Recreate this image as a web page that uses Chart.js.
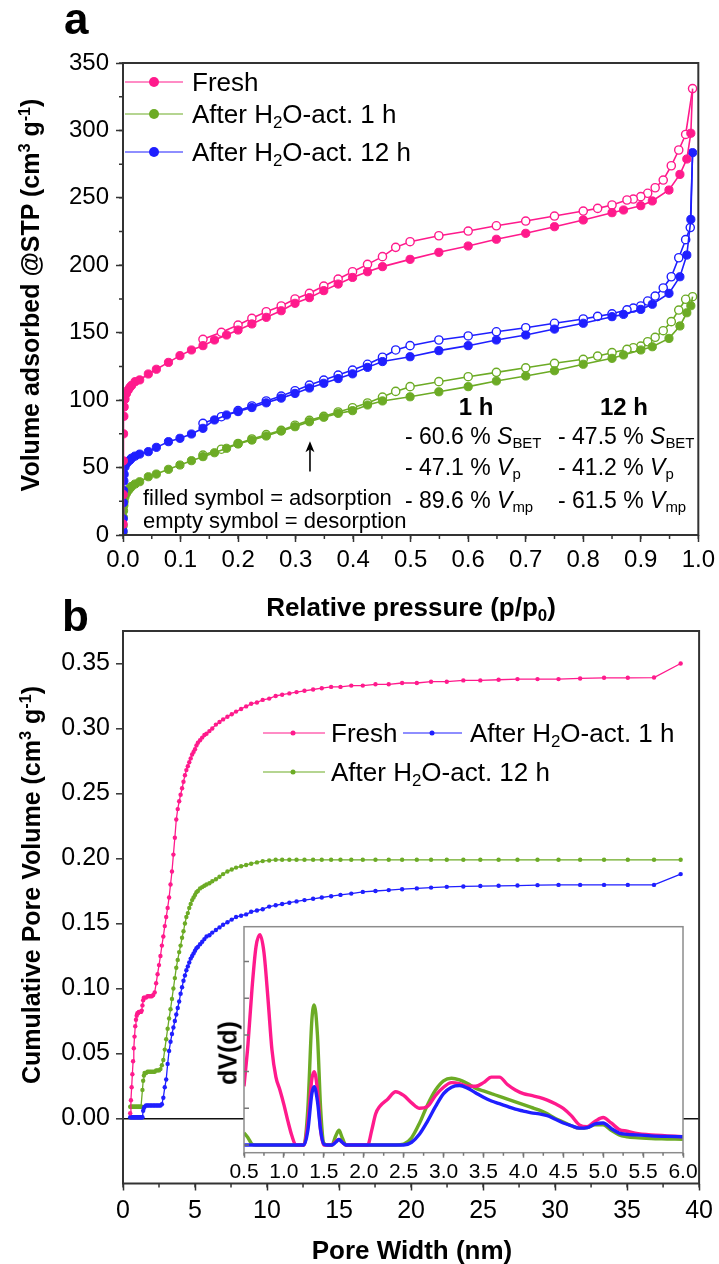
<!DOCTYPE html>
<html lang="en">
<head>
<meta charset="UTF-8">
<title>Isotherms and pore size distribution</title>
<script src="https://cdn.jsdelivr.net/npm/chart.js@4.4.1/dist/chart.umd.min.js"></script>
<style>
  body { margin: 0; background: #fff; }
  #page { position: relative; width: 719px; height: 1264px; font-family: "Liberation Sans", Arial, sans-serif; color: #000; overflow: hidden; }
  .box { position: absolute; }
  .t { position: absolute; white-space: nowrap; line-height: 1; transform: translateY(-50%); }
  .c { transform: translate(-50%, -50%); }
  .r { transform: translate(-50%, -50%) rotate(-90deg); }
  .b { font-weight: bold; }
  sub { font-size: 0.65em; vertical-align: -0.3em; line-height: 0; }
  sup { font-size: 0.65em; vertical-align: 0.55em; line-height: 0; }
  .ln { position: absolute; height: 0; border-top: 1.6px solid; transform: translateY(-50%); }
  .dot { position: absolute; border-radius: 50%; transform: translate(-50%, -50%); }
</style>
</head>
<body>
<div id="page">
  <div class="box" style="left:0;top:0;width:719px;height:585px"><canvas id="chartA"></canvas></div>
  <div class="box" style="left:0;top:600px;width:719px;height:640px"><canvas id="chartB"></canvas></div>
  <div class="box" style="left:200px;top:900px;width:500px;height:290px"><canvas id="chartInset"></canvas></div>

  <!-- panel a -->
  <div class="t b" style="left:64px;top:19px;font-size:44px">a</div>
  <div class="t r b" style="left:30px;top:295px;font-size:25px">Volume adsorbed @STP (cm<sup>3</sup> g<sup>-1</sup>)</div>
  <div class="t c b" style="left:411px;top:607px;font-size:26px">Relative pressure (p/p<sub>0</sub>)</div>

  <div class="ln" style="left:125px;top:82px;width:58px;border-color:#ff1a8c"></div>
  <div class="dot" style="left:154px;top:82px;width:10px;height:10px;background:#ff1a8c"></div>
  <div class="t" style="left:192px;top:82px;font-size:26px">Fresh</div>
  <div class="ln" style="left:125px;top:114px;width:58px;border-color:#6cab25"></div>
  <div class="dot" style="left:154px;top:114px;width:10px;height:10px;background:#6cab25"></div>
  <div class="t" style="left:192px;top:114px;font-size:26px">After H<sub>2</sub>O-act. 1 h</div>
  <div class="ln" style="left:125px;top:152px;width:58px;border-color:#1f1fff"></div>
  <div class="dot" style="left:154px;top:152px;width:10px;height:10px;background:#1f1fff"></div>
  <div class="t" style="left:192px;top:152px;font-size:26px">After H<sub>2</sub>O-act. 12 h</div>

  <div class="t c b" style="left:476px;top:407px;font-size:24px">1 h</div>
  <div class="t c b" style="left:624px;top:407px;font-size:24px">12 h</div>
  <div class="t" style="left:405px;top:436px;font-size:23px">- 60.6 % <i>S</i><sub>BET</sub></div>
  <div class="t" style="left:405px;top:467px;font-size:23px">- 47.1 % <i>V</i><sub>p</sub></div>
  <div class="t" style="left:405px;top:500px;font-size:23px">- 89.6 % <i>V</i><sub>mp</sub></div>
  <div class="t" style="left:558px;top:436px;font-size:23px">- 47.5 % <i>S</i><sub>BET</sub></div>
  <div class="t" style="left:558px;top:467px;font-size:23px">- 41.2 % <i>V</i><sub>p</sub></div>
  <div class="t" style="left:558px;top:500px;font-size:23px">- 61.5 % <i>V</i><sub>mp</sub></div>
  <div class="t" style="left:143px;top:498px;font-size:22px">filled symbol = adsorption</div>
  <div class="t" style="left:143px;top:521px;font-size:22px">empty symbol = desorption</div>

  <!-- panel b -->
  <div class="t b" style="left:62px;top:616px;font-size:44px">b</div>
  <div class="t r b" style="left:31px;top:885px;font-size:25px">Cumulative Pore Volume (cm<sup>3</sup> g<sup>-1</sup>)</div>
  <div class="t c b" style="left:412px;top:1250px;font-size:26px">Pore Width (nm)</div>
  <div class="t r b" style="left:228px;top:1053px;font-size:25px">dV(d)</div>

  <div class="ln" style="left:263px;top:733px;width:62px;border-color:#ff1a8c"></div>
  <div class="dot" style="left:293px;top:733px;width:5px;height:5px;background:#ff1a8c"></div>
  <div class="t" style="left:331px;top:733px;font-size:26px">Fresh</div>
  <div class="ln" style="left:403px;top:733px;width:59px;border-color:#1f1fff"></div>
  <div class="dot" style="left:432px;top:733px;width:5px;height:5px;background:#1f1fff"></div>
  <div class="t" style="left:470px;top:733px;font-size:26px">After H<sub>2</sub>O-act. 1 h</div>
  <div class="ln" style="left:263px;top:772px;width:62px;border-color:#6cab25"></div>
  <div class="dot" style="left:293px;top:772px;width:5px;height:5px;background:#6cab25"></div>
  <div class="t" style="left:331px;top:772px;font-size:26px">After H<sub>2</sub>O-act. 12 h</div>
</div>

<script>
// ---- panel a: N2 isotherms (p/p0, cm3/g) ----
var adsP = [0.0001, 0.0003, 0.0006, 0.001, 0.0015, 0.002, 0.0035, 0.006, 0.009, 0.012,
  0.015, 0.021, 0.029, 0.044, 0.058, 0.079, 0.099, 0.119, 0.139, 0.159,
  0.18, 0.2, 0.224, 0.249, 0.275, 0.299, 0.324, 0.349, 0.374, 0.399,
  0.425, 0.451, 0.499, 0.549, 0.6, 0.649, 0.7, 0.75, 0.8, 0.85,
  0.87, 0.9, 0.92, 0.949, 0.968, 0.98, 0.987, 0.99];
var freshAds = [8, 30, 55, 75, 88, 95, 100.8, 105, 107.5, 109.5,
  111, 113.7, 115, 119.4, 122.9, 128, 133, 137.2, 140.4, 144.6,
  148.3, 152, 156.5, 161.4, 166.3, 171.8, 176, 181.2, 186.1, 191,
  195.2, 199, 204.4, 209.6, 214.3, 219.3, 223.7, 228.6, 233.6, 239,
  241, 244.2, 247.7, 255.8, 267.4, 278.8, 297.9, 331];
var act1hAds = [2, 7, 13, 18, 22, 25, 28.4, 31, 33, 34.6,
  36, 37.8, 39.5, 43.2, 45.2, 48.7, 51.9, 55.1, 58.1, 61,
  64.3, 67.5, 70.4, 73.4, 77.1, 80.3, 84, 87.3, 90.2, 92.2,
  96.4, 99.4, 102.5, 106.2, 110, 114.2, 117.9, 121.8, 126.6, 131,
  133.5, 137.2, 139.6, 145.8, 155, 164.8, 170, 176.7];
var act12hAds = [3, 12, 24, 33, 40, 45, 50.6, 53, 54.5, 55.6,
  57, 58.5, 60, 61.8, 65, 69.2, 71.7, 74.9, 79.1, 85.3,
  89, 91.5, 94.5, 98, 101.5, 105, 109, 112.5, 116, 119.5,
  124.3, 128.6, 132.2, 136.7, 140.4, 144.6, 148.3, 152.7, 157, 161.9,
  163.6, 167.3, 171.1, 179.2, 191.5, 207.6, 234, 283.5];

var desP = [0.99, 0.986, 0.978, 0.966, 0.953, 0.939, 0.925, 0.912, 0.9, 0.887,
  0.876, 0.85, 0.825, 0.8, 0.75, 0.7, 0.649, 0.6, 0.549, 0.499,
  0.474, 0.451, 0.425, 0.399, 0.374, 0.349, 0.324, 0.299, 0.275, 0.249,
  0.224, 0.2, 0.171, 0.139];
var freshDes = [331, null, 297, 285.5, 273.8, 263.2, 257.5, 253.4, 250.9, 249.1,
  248.4, 244.7, 242.2, 240.2, 236.5, 232.8, 229.3, 225.4, 221.9, 217.5,
  213.3, 206.4, 200.7, 195.2, 189.8, 184.6, 179.2, 175, 169.8, 165.6,
  160.7, 155.7, 150.3, 145.1];
var act1hDes = [176.7, null, 174.8, 166.8, 158.2, 151.5, 146.6, 143.3, 140.1, 138.9,
  137.7, 135.2, 132.7, 130.3, 127.3, 124, 120.6, 117.4, 113.7, 110,
  106.5, 102.3, 97.9, 94.4, 91.2, 88, 85, 81.4, 77.6, 74.4,
  71.2, 67.9, 63.6, 59.3];
var act12hDes = [283.5, 228, 219, 205.6, 191.5, 183.2, 177.2, 173.5, 169.8, 168.3,
  167, 164, 162.1, 160.2, 157, 153.7, 150.7, 147.6, 144.6, 140.4,
  137.2, 131.8, 126.6, 122.3, 118.6, 114.9, 111.2, 107, 103, 99.4,
  95.7, 92.2, 87.7, 82.8];

// ---- panel b: cumulative pore volume (nm, cm3/g) ----
var poreWidth = [0.5, 0.55, 0.6, 0.65, 0.7, 0.75, 0.8, 0.85, 0.9, 0.95,
  1.0, 1.05, 1.1, 1.15, 1.2, 1.25, 1.3, 1.35, 1.4, 1.45,
  1.5, 1.6, 1.7, 1.8, 1.9, 2.0, 2.1, 2.2, 2.3, 2.4,
  2.5, 2.6, 2.7, 2.8, 2.9, 3.0, 3.1, 3.2, 3.3, 3.4,
  3.5, 3.6, 3.7, 3.8, 3.9, 4.0, 4.1, 4.2, 4.3, 4.4,
  4.5, 4.6, 4.7, 4.8, 4.9, 5.0, 5.1, 5.2, 5.35, 5.5,
  5.65, 5.8, 6.0, 6.2, 6.45, 6.7, 6.95, 7.25, 7.55, 7.85,
  8.2, 8.55, 8.9, 9.3, 9.7, 10.15, 10.6, 11.05, 11.55, 12.05,
  12.6, 13.2, 13.8, 14.45, 15.1, 15.85, 16.65, 17.53, 18.45, 19.38,
  20.4, 21.39, 22.48, 23.63, 24.81, 26.08, 27.39, 28.78, 30.24, 31.74,
  33.4, 35.05, 36.87, 38.72];
var freshCum = [0.004, 0.014, 0.024, 0.034, 0.044, 0.054, 0.063, 0.071, 0.076, 0.079,
  0.081, 0.081, 0.082, 0.082, 0.082, 0.082, 0.083, 0.087, 0.091, 0.093,
  0.093, 0.093, 0.094, 0.094, 0.094, 0.094, 0.095, 0.097, 0.104, 0.111,
  0.118, 0.125, 0.133, 0.140, 0.148, 0.155, 0.162, 0.170, 0.180, 0.190,
  0.203, 0.216, 0.230, 0.238, 0.244, 0.249, 0.254, 0.259, 0.264, 0.268,
  0.271, 0.274, 0.277, 0.280, 0.282, 0.284, 0.287, 0.289, 0.291, 0.293,
  0.295, 0.296, 0.298, 0.300, 0.303, 0.305, 0.307, 0.309, 0.311, 0.313,
  0.315, 0.317, 0.319, 0.320, 0.322, 0.323, 0.325, 0.326, 0.327, 0.328,
  0.329, 0.330, 0.331, 0.332, 0.332, 0.333, 0.333, 0.334, 0.334, 0.335,
  0.335, 0.336, 0.336, 0.337, 0.337, 0.3375, 0.338, 0.338, 0.338, 0.3385,
  0.339, 0.339, 0.3392, 0.350];
var act1hCum = [0.001, 0.001, 0.001, 0.001, 0.001, 0.001, 0.001, 0.001, 0.001, 0.001,
  0.001, 0.001, 0.001, 0.001, 0.001, 0.001, 0.001, 0.001, 0.006, 0.008,
  0.009, 0.010, 0.010, 0.010, 0.010, 0.010, 0.010, 0.010, 0.010, 0.010,
  0.010, 0.010, 0.011, 0.016, 0.024, 0.030, 0.042, 0.052, 0.059, 0.065,
  0.070, 0.075, 0.080, 0.085, 0.090, 0.096, 0.101, 0.106, 0.110, 0.114,
  0.117, 0.120, 0.123, 0.125, 0.127, 0.129, 0.131, 0.132, 0.134, 0.136,
  0.138, 0.140, 0.141, 0.143, 0.145, 0.147, 0.149, 0.151, 0.153, 0.155,
  0.156, 0.157, 0.159, 0.160, 0.161, 0.163, 0.164, 0.165, 0.166, 0.167,
  0.168, 0.169, 0.170, 0.171, 0.172, 0.173, 0.1743, 0.175, 0.1757, 0.1764,
  0.177, 0.1776, 0.1782, 0.1785, 0.1788, 0.179, 0.1792, 0.1795, 0.1797, 0.1797,
  0.1797, 0.1797, 0.1797, 0.188];
var act12hCum = [0.009, 0.009, 0.009, 0.009, 0.009, 0.009, 0.009, 0.009, 0.009, 0.009,
  0.009, 0.009, 0.009, 0.009, 0.009, 0.009, 0.009, 0.022, 0.029, 0.033,
  0.035, 0.035, 0.036, 0.036, 0.036, 0.036, 0.036, 0.036, 0.037, 0.037,
  0.037, 0.038, 0.041, 0.045, 0.053, 0.061, 0.069, 0.077, 0.084, 0.092,
  0.100, 0.108, 0.116, 0.122, 0.128, 0.133, 0.139, 0.144, 0.150, 0.155,
  0.158, 0.162, 0.165, 0.168, 0.170, 0.172, 0.174, 0.175, 0.177, 0.178,
  0.179, 0.180, 0.181, 0.1825, 0.184, 0.186, 0.188, 0.190, 0.1915, 0.193,
  0.194, 0.195, 0.196, 0.197, 0.198, 0.1985, 0.199, 0.199, 0.199, 0.199,
  0.199, 0.199, 0.199, 0.199, 0.199, 0.199, 0.199, 0.199, 0.199, 0.199,
  0.199, 0.199, 0.199, 0.199, 0.199, 0.199, 0.199, 0.199, 0.199, 0.199,
  0.199, 0.199, 0.199, 0.199];

// ---- inset: dV(d), arbitrary units ----
var insetWidth = [0.5, 0.55, 0.6, 0.65, 0.7, 0.75, 0.8, 0.85, 0.9, 0.95,
  1.0, 1.05, 1.1, 1.15, 1.2, 1.25, 1.3, 1.35, 1.38, 1.42,
  1.46, 1.5, 1.55, 1.6, 1.65, 1.69, 1.73, 1.78, 1.85, 1.95,
  2.05, 2.1, 2.15, 2.2, 2.3, 2.4, 2.5, 2.6, 2.7, 2.8,
  2.9, 3.0, 3.1, 3.2, 3.3, 3.4, 3.5, 3.6, 3.7, 3.8,
  3.9, 4.0, 4.1, 4.2, 4.3, 4.4, 4.5, 4.6, 4.7, 4.8,
  4.9, 5.0, 5.1, 5.2, 5.3, 5.4, 5.6, 5.8, 6.0];
var freshDv = [0.32, 0.55, 0.85, 1.08, 1.146, 1.05, 0.80, 0.52, 0.37, 0.30,
  0.22, 0.13, 0.05, 0, 0, 0, 0.12, 0.36, 0.40, 0.30,
  0.08, 0, 0, 0, 0.02, 0.03, 0.015, 0, 0, 0,
  0, 0.08, 0.17, 0.21, 0.25, 0.29, 0.27, 0.23, 0.20, 0.21,
  0.27, 0.315, 0.34, 0.335, 0.32, 0.32, 0.34, 0.37, 0.37, 0.33,
  0.30, 0.28, 0.27, 0.26, 0.245, 0.225, 0.20, 0.16, 0.11, 0.10,
  0.13, 0.15, 0.12, 0.085, 0.075, 0.065, 0.055, 0.05, 0.045];
var act1hDv = [0, 0, 0, 0, 0, 0, 0, 0, 0, 0,
  0, 0, 0, 0, 0, 0, 0.08, 0.28, 0.318, 0.24,
  0.08, 0.005, 0, 0, 0.015, 0.03, 0.015, 0, 0, 0,
  0, 0, 0, 0, 0, 0, 0, 0.015, 0.06, 0.13,
  0.21, 0.28, 0.315, 0.324, 0.31, 0.285, 0.26, 0.24, 0.225, 0.21,
  0.195, 0.185, 0.175, 0.17, 0.16, 0.14, 0.12, 0.105, 0.092, 0.095,
  0.115, 0.12, 0.09, 0.065, 0.058, 0.055, 0.05, 0.047, 0.045];
var act12hDv = [0.067, 0.04, 0.005, 0, 0, 0, 0, 0, 0, 0,
  0, 0, 0, 0, 0, 0, 0.2, 0.68, 0.764, 0.6,
  0.2, 0.01, 0, 0, 0.05, 0.08, 0.04, 0, 0, 0,
  0, 0, 0, 0, 0, 0, 0.005, 0.04, 0.12, 0.22,
  0.30, 0.35, 0.364, 0.355, 0.335, 0.31, 0.295, 0.28, 0.265, 0.25,
  0.235, 0.22, 0.205, 0.19, 0.17, 0.145, 0.125, 0.105, 0.092, 0.095,
  0.11, 0.11, 0.08, 0.055, 0.045, 0.04, 0.035, 0.033, 0.031];

var PINK = '#ff1a8c', GREEN = '#6cab25', BLUE = '#1f1fff';
var AXIS = '#333';
var FONT = '"Liberation Sans", Arial, sans-serif';

function pts(xs, ys) {
  return xs.map(function (x, i) { return { x: x, y: ys[i] }; });
}

// frame round the plot area (and white fill for the inset)
var frame = {
  id: 'frame',
  beforeDatasetsDraw: function (chart, args, o) {
    if (!o.fill) return;
    var a = chart.chartArea, ctx = chart.ctx;
    ctx.save();
    ctx.fillStyle = o.fill;
    ctx.fillRect(a.left, a.top, a.right - a.left, a.bottom - a.top);
    ctx.restore();
  },
  afterDraw: function (chart, args, o) {
    var a = chart.chartArea, ctx = chart.ctx;
    ctx.save();
    ctx.strokeStyle = o.color || AXIS;
    ctx.lineWidth = o.width || 2;
    ctx.strokeRect(a.left, a.top, a.right - a.left, a.bottom - a.top);
    ctx.restore();
  }
};

// short ticks between the labelled ones
var minorTicks = {
  id: 'minorTicks',
  afterDraw: function (chart, args, o) {
    var ctx = chart.ctx;
    (o.axes || []).forEach(function (ax) {
      var sc = chart.scales[ax.id];
      var start = ax.start !== undefined ? ax.start : sc.min;
      ctx.save();
      ctx.strokeStyle = ax.color || AXIS;
      ctx.lineWidth = 1.5;
      ctx.beginPath();
      for (var v = start; v <= sc.max + 1e-9; v += ax.step) {
        var p = sc.getPixelForValue(v);
        if (sc.isHorizontal()) {
          ctx.moveTo(p, sc.top); ctx.lineTo(p, sc.top + ax.len);
        } else if (ax.inward) {
          ctx.moveTo(sc.right, p); ctx.lineTo(sc.right + ax.len, p);
        } else {
          ctx.moveTo(sc.right, p); ctx.lineTo(sc.right - ax.len, p);
        }
      }
      ctx.stroke();
      ctx.restore();
    });
  }
};

// the arrow under the isotherms
var arrow = {
  id: 'arrow',
  afterDatasetsDraw: function (chart, args, o) {
    if (o.p === undefined) return;
    var ctx = chart.ctx;
    var x = chart.scales.x.getPixelForValue(o.p);
    var y0 = chart.scales.y.getPixelForValue(o.from);
    var y1 = chart.scales.y.getPixelForValue(o.to);
    ctx.save();
    ctx.strokeStyle = '#000'; ctx.fillStyle = '#000'; ctx.lineWidth = 1.6;
    ctx.beginPath(); ctx.moveTo(x, y0); ctx.lineTo(x, y1 + 6); ctx.stroke();
    ctx.beginPath(); ctx.moveTo(x, y1); ctx.lineTo(x - 4.5, y1 + 11); ctx.lineTo(x, y1 + 8); ctx.lineTo(x + 4.5, y1 + 11); ctx.closePath(); ctx.fill();
    ctx.restore();
  }
};

function isoSet(xs, ys, color, hollow, hideIdx) {
  return {
    data: pts(xs, ys),
    borderColor: color,
    borderWidth: 1.6,
    pointRadius: xs.map(function (_, i) { return i === hideIdx ? 0 : 4.1; }),
    pointBackgroundColor: hollow ? '#fff' : color,
    pointBorderColor: color,
    pointBorderWidth: hollow ? 1.4 : 1,
    spanGaps: true
  };
}

function tickGrid(len) {
  return { display: true, drawOnChartArea: false, drawTicks: true, tickLength: len, tickColor: AXIS, tickWidth: 1.5 };
}

var base = {
  animation: false,
  responsive: true,
  maintainAspectRatio: false,
  events: []
};

new Chart(document.getElementById('chartA'), {
  type: 'line',
  data: {
    datasets: [
      isoSet(adsP, freshAds, PINK, false, adsP.length - 1),
      isoSet(desP, freshDes, PINK, true, -1),
      isoSet(adsP, act12hAds, BLUE, false, -1),
      isoSet(desP, act12hDes, BLUE, true, 0),
      isoSet(adsP, act1hAds, GREEN, false, adsP.length - 1),
      isoSet(desP, act1hDes, GREEN, true, -1)
    ]
  },
  options: Object.assign({}, base, {
    layout: { padding: { left: 0, right: 19, top: 63, bottom: 0 } },
    plugins: {
      legend: { display: false }, tooltip: { enabled: false },
      frame: { color: AXIS, width: 2 },
      minorTicks: { axes: [{ id: 'x', step: 0.05, len: 4 }, { id: 'y', step: 25, len: 4 }] },
      arrow: { p: 0.325, from: 47, to: 69.5 }
    },
    scales: {
      x: {
        type: 'linear', min: 0, max: 1,
        border: { display: false },
        grid: tickGrid(7),
        ticks: { stepSize: 0.1, padding: 4, color: '#000', font: { family: FONT, size: 24 }, maxRotation: 0,
          callback: function (v) { return v.toFixed(1); } },
        afterFit: function (s) { s.height = 50; }
      },
      y: {
        min: 0, max: 350,
        border: { display: false },
        grid: tickGrid(7),
        ticks: { stepSize: 50, padding: 7, color: '#000', font: { family: FONT, size: 24 } },
        afterFit: function (s) { s.width = 123; }
      }
    }
  }),
  plugins: [frame, minorTicks, arrow]
});

function cumSet(ys, color) {
  return { data: pts(poreWidth, ys), borderColor: color, backgroundColor: color, borderWidth: 1.3,
    pointRadius: 2.2, pointBorderWidth: 0, pointBackgroundColor: color };
}

new Chart(document.getElementById('chartB'), {
  type: 'line',
  data: { datasets: [cumSet(freshCum, PINK), cumSet(act1hCum, BLUE), cumSet(act12hCum, GREEN)] },
  options: Object.assign({}, base, {
    layout: { padding: { left: 0, right: 19, top: 31, bottom: 0 } },
    plugins: {
      legend: { display: false }, tooltip: { enabled: false },
      frame: { color: AXIS, width: 2 },
      minorTicks: { axes: [{ id: 'x', step: 2.5, len: 4 }] }
    },
    scales: {
      x: {
        type: 'linear', min: 0, max: 40,
        border: { display: false },
        grid: tickGrid(7),
        ticks: { stepSize: 5, padding: 6, color: '#000', font: { family: FONT, size: 25 }, maxRotation: 0 },
        afterFit: function (s) { s.height = 56.5; }
      },
      y: {
        min: -0.05, max: 0.375,
        border: { display: false },
        grid: {
          display: true, drawOnChartArea: true, drawTicks: true, tickLength: 7, tickWidth: 1.5, lineWidth: 1.6,
          color: function (c) { return c.tick && Math.abs(c.tick.value) < 1e-9 ? '#111' : 'rgba(0,0,0,0)'; },
          tickColor: function (c) { return c.tick && c.tick.value < -0.01 ? 'rgba(0,0,0,0)' : AXIS; }
        },
        ticks: { stepSize: 0.05, includeBounds: false, padding: 6, color: '#000', font: { family: FONT, size: 25 },
          callback: function (v) { return v < -0.01 ? '' : v.toFixed(2); } },
        afterFit: function (s) { s.width = 123; }
      }
    }
  }),
  plugins: [frame, minorTicks]
});

function dvSet(ys, color) {
  return { data: pts(insetWidth, ys), borderColor: color, borderWidth: 3.4, pointRadius: 0,
    cubicInterpolationMode: 'monotone' };
}

new Chart(document.getElementById('chartInset'), {
  type: 'line',
  data: { datasets: [dvSet(act1hDv, BLUE), dvSet(freshDv, PINK), dvSet(act12hDv, GREEN)] },
  options: Object.assign({}, base, {
    layout: { padding: { left: 0, right: 17, top: 26.7, bottom: 0 } },
    plugins: {
      legend: { display: false }, tooltip: { enabled: false },
      frame: { color: '#8c8c8c', width: 1.5, fill: '#fff' },
      minorTicks: { axes: [{ id: 'y', step: 0.2, start: 0, len: 5, inward: true, color: '#777' }, { id: 'x', step: 0.25, len: 3, color: '#777' }] }
    },
    scales: {
      x: {
        type: 'linear', min: 0.5, max: 6.0,
        border: { display: false },
        grid: { display: true, drawOnChartArea: false, drawTicks: true, tickLength: 5, tickColor: '#777', tickWidth: 1.5 },
        ticks: { stepSize: 0.5, padding: 2, color: '#000', font: { family: FONT, size: 21 }, maxRotation: 0,
          autoSkip: false, callback: function (v) { return v.toFixed(1); } },
        afterFit: function (s) { s.height = 37.3; }
      },
      y: {
        min: -0.042, max: 1.19,
        border: { display: false },
        grid: { display: false },
        ticks: { display: false },
        afterFit: function (s) { s.width = 44; }
      }
    }
  }),
  plugins: [frame, minorTicks]
});
</script>
</body>
</html>
